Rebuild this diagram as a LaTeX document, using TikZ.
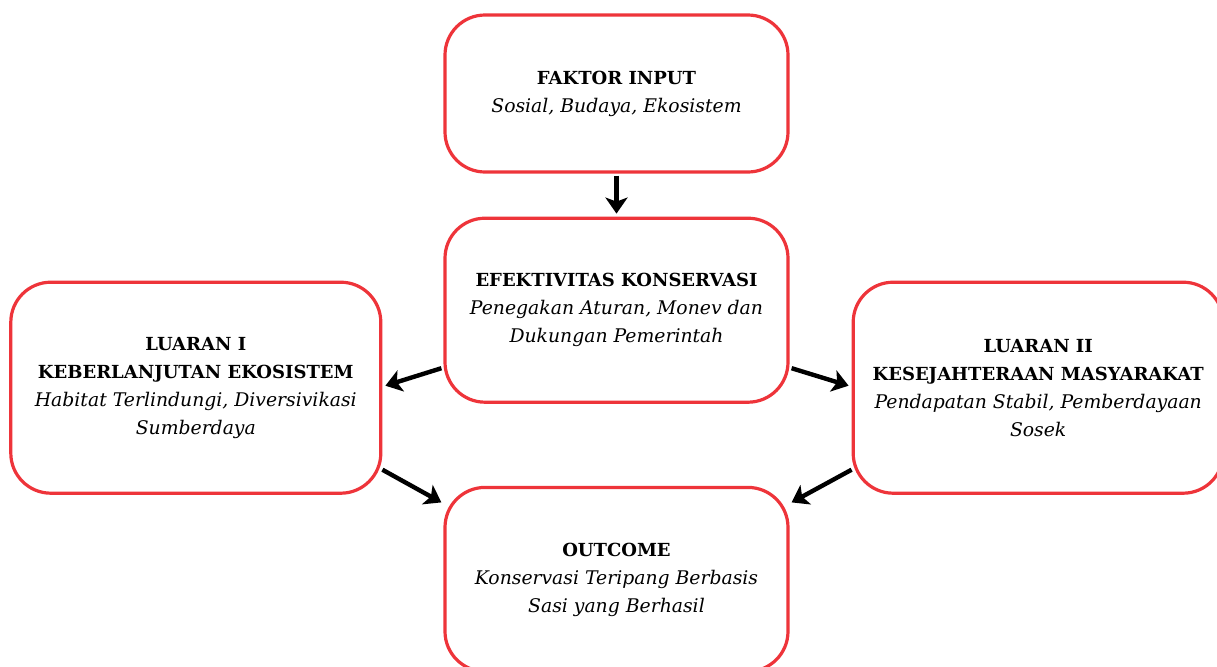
\documentclass[tikz,border=0pt]{standalone}
\usepackage{fontspec}
\setmainfont{DejaVu Serif}
\usetikzlibrary{arrows.meta,positioning}
\definecolor{boxred}{RGB}{238,52,58}
\newcommand{\judul}[1]{{\fontsize{9}{14}\selectfont\bfseries #1}}

\begin{document}
\begin{tikzpicture}[x=0.5pt,y=-0.5pt,>={Stealth[length=8pt,width=11pt,inset=2pt]},
    box/.style={draw=boxred,line width=1.6pt,rounded corners=20pt,fill=white,
      align=center,inner sep=0pt,font=\fontsize{9.4}{14}\selectfont},
    smallbox/.style={box,minimum width=171.5pt},
    widebox/.style={box,minimum width=185pt,minimum height=105.5pt},
    link/.style={->,line width=2.2pt}]

    \useasboundingbox (0,0) rectangle (1217,666);

    \node[smallbox,minimum height=78.5pt] (input) at (616.5,93.5)
        {\judul{FAKTOR INPUT}\\\textit{Sosial, Budaya, Ekosistem}};

    \node[smallbox,minimum height=92pt] (efek) [below=21.5pt of input]
        {\judul{EFEKTIVITAS KONSERVASI}\\\textit{Penegakan Aturan, Monev dan}\\\textit{Dukungan Pemerintah}};

    \node[widebox] (luar1) [left=30.5pt of efek,yshift=-38.75pt]
        {\judul{LUARAN I}\\\judul{KEBERLANJUTAN EKOSISTEM}\\\textit{Habitat Terlindungi, Diversivikasi}\\\textit{Sumberdaya}};

    \node[widebox] (luar2) [right=31pt of efek,yshift=-38.75pt]
        {\judul{LUARAN II}\\\judul{KESEJAHTERAAN MASYARAKAT}\\\textit{Pendapatan Stabil, Pemberdayaan}\\\textit{Sosek}};

    \node[smallbox,minimum height=92pt] (hasil) [below=41pt of efek]
        {\judul{OUTCOME}\\\textit{Konservasi Teripang Berbasis}\\\textit{Sasi yang Berhasil}};

    \draw[link] ([yshift=-1pt]input.south) -- ([yshift=1.5pt]efek.north);
    \draw[link] ([xshift=-1pt,yshift=-29pt]efek.west) -- ([xshift=1.5pt,yshift=1pt]luar1.east);
    \draw[link] ([xshift=1pt,yshift=-29pt]efek.east) -- ([xshift=-1.5pt,yshift=1pt]luar2.west);
    \draw[link] ([yshift=-41pt]luar1.east) -- ([xshift=-1pt,yshift=38.5pt]hasil.west);
    \draw[link] ([yshift=-41pt]luar2.west) -- ([xshift=1pt,yshift=38.5pt]hasil.east);
\end{tikzpicture}
\end{document}
